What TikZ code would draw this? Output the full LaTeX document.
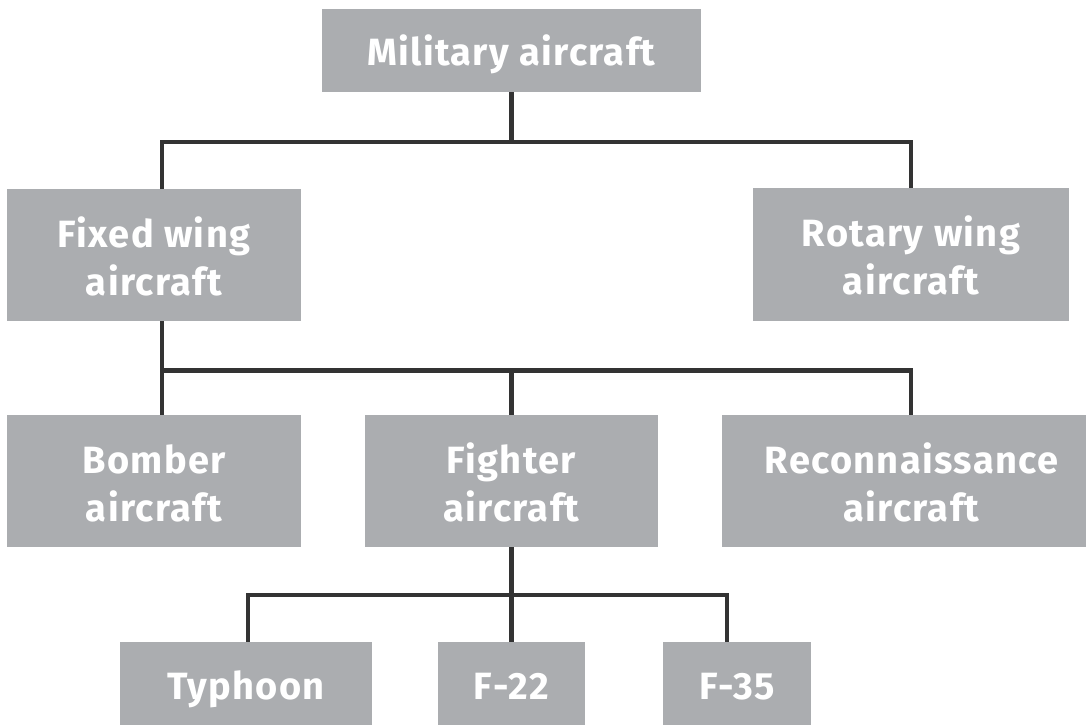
\documentclass[tikz,border=0pt]{standalone}
\usepackage{fontspec}
\setmainfont{Fira Sans}[LetterSpace=3.5]
\definecolor{boxgray}{RGB}{171,173,176}
\definecolor{linegray}{RGB}{51,51,51}
\newcommand\twoline[2]{\vbox{\hbox to 0pt{\hss#1\hss}\hbox to 0pt{\hss#2\hss}}}
\tikzset{
  orgbox/.style={fill=boxgray, draw=none, inner sep=0pt, text=white,
    font=\fontsize{38}{48}\selectfont\bfseries, text depth=0pt},
  oneline/.style={orgbox, text height=29pt},
  twolines/.style={orgbox, text height=80pt},
  conn/.style={draw=linegray, line width=4.5pt, line join=miter, line cap=butt}
}
\begin{document}
\begin{tikzpicture}[x=1pt,y=-1pt]
\useasboundingbox (0,0) rectangle (1086,724);
\clip (0,0) rectangle (1086,724);
\node[oneline, minimum width=379pt, minimum height=83pt] (mil) at (511.5,50.5) {Military aircraft};
\node[twolines, minimum width=294pt, minimum height=132pt] (fixed) at (154,255) {\twoline{Fixed wing}{aircraft}};
\node[twolines, minimum width=316pt, minimum height=133pt] (rotary) at (911,254.5) {\twoline{Rotary wing}{aircraft}};
\node[twolines, minimum width=294pt, minimum height=132pt] (bomber) at (154,481) {\twoline{Bomber}{aircraft}};
\node[twolines, minimum width=293pt, minimum height=132pt] (fighter) at (511.5,481) {\twoline{Fighter}{aircraft}};
\node[twolines, minimum width=364pt, minimum height=132pt] (recon) at (904,481) {\hspace*{15pt}\twoline{Reconnaissance}{aircraft}};
\node[oneline, minimum width=252pt, minimum height=86pt] (typhoon) at (246,685) {Typhoon};
\node[oneline, minimum width=147pt, minimum height=86pt] (f22) at (511.5,685) {F-22};
\node[oneline, minimum width=148pt, minimum height=86pt] (f35) at (737,685) {F-35};
\coordinate (j1) at (511.5,142);
\coordinate (j2) at (511.5,370.5);
\coordinate (j3) at (511.5,595);
\draw[conn] (mil.south) -- (j1);
\draw[conn] ([xshift=8pt]fixed.north) |- (j1) -| (rotary.north);
\draw[conn] ([xshift=8pt]fixed.south) -- ([xshift=8pt]bomber.north);
\draw[conn] ([xshift=8pt]fixed.south |- j2) -| ([xshift=7pt]recon.north);
\draw[conn] (j2) -- (fighter.north);
\draw[conn] (fighter.south) -- (f22.north);
\draw[conn] ([xshift=2pt]typhoon.north) |- (j3) -| ([xshift=-10pt]f35.north);
\end{tikzpicture}
\end{document}
